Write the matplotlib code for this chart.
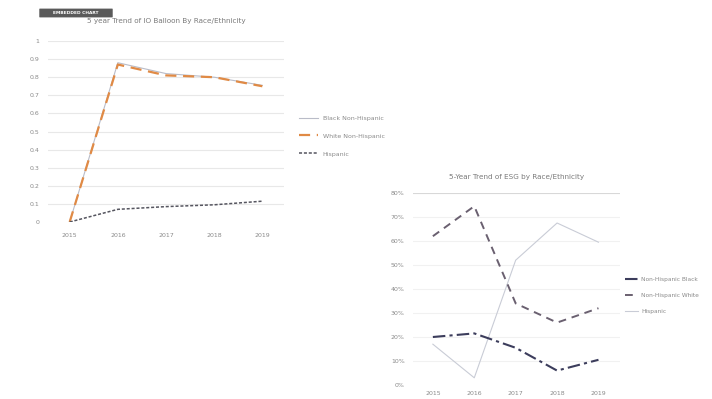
import matplotlib.pyplot as plt
from matplotlib.patches import FancyBboxPatch

years = ["2015", "2016", "2017", "2018", "2019"]

# IO Balloon shares
io_black = [0.0, 0.88, 0.82, 0.80, 0.755]
io_white = [0.0, 0.87, 0.81, 0.80, 0.75]
io_hisp = [0.0, 0.07, 0.085, 0.095, 0.115]
io_ticks = [0, 0.1, 0.2, 0.3, 0.4, 0.5, 0.6, 0.7, 0.8, 0.9, 1]
io_tick_labels = ["0", "0.1", "0.2", "0.3", "0.4", "0.5", "0.6", "0.7", "0.8", "0.9", "1"]

# ESG shares
esg_black = [0.20, 0.215, 0.155, 0.06, 0.105]
esg_white = [0.62, 0.745, 0.34, 0.26, 0.32]
esg_hisp = [0.17, 0.03, 0.52, 0.675, 0.595]
esg_ticks = [0, 0.1, 0.2, 0.3, 0.4, 0.5, 0.6, 0.7, 0.8]
esg_tick_labels = ["0%", "10%", "20%", "30%", "40%", "50%", "60%", "70%", "80%"]

W, H = 712, 399
fig = plt.figure(figsize=(W / 100, H / 100), dpi=100)
fig.patch.set_facecolor("white")

txt = "#8a8a8a"
x = list(range(len(years)))


def style(ax):
    for s in ax.spines.values():
        s.set_visible(False)
    ax.tick_params(length=0, labelsize=4.5, colors=txt, pad=2)
    ax.set_facecolor("none")


# Left chart: IO Balloon
ax1 = fig.add_axes([48 / W, 1 - 222 / H, 236 / W, 181 / H])
style(ax1)
for t in io_ticks[1:]:
    ax1.axhline(t, color="#e8e8e8", lw=0.8, zorder=0)
ax1.plot(x, io_black, color="#b9bcc8", lw=0.8, label="Black Non-Hispanic", zorder=2)
ax1.plot(x, io_white, color="#e08a45", lw=1.6, dashes=(5, 3), label="White Non-Hispanic", zorder=3)
ax1.plot(x, io_hisp, color="#55555f", lw=1.1, dashes=(2, 1.2), label="Hispanic", zorder=4)
ax1.set_xlim(-0.45, 4.45)
ax1.set_ylim(0, 1)
ax1.set_xticks(x, years)
ax1.set_yticks(io_ticks, io_tick_labels)
ax1.tick_params(axis="y", pad=6)
ax1.tick_params(axis="x", pad=8)
ax1.set_title("5 year Trend of IO Balloon By Race/Ethnicity", fontsize=5.2, color="#7a7a7a", pad=13)
ax1.legend(loc="upper left", bbox_to_anchor=(1.04, 0.62), frameon=False, fontsize=4.5,
           labelcolor=txt, handlelength=3, labelspacing=2.0)

# Right chart: ESG
ax2 = fig.add_axes([413 / W, 1 - 385 / H, 207 / W, 192 / H])
style(ax2)
for t in esg_ticks[1:-1]:
    ax2.axhline(t, color="#f1f1f1", lw=0.8, zorder=0)
ax2.axhline(0.8, color="#d8d8d8", lw=0.8, zorder=0)
ax2.plot(x, esg_black, color="#3c3d5c", lw=1.5, dashes=(6, 2, 1.5, 2), label="Non-Hispanic Black", zorder=4)
ax2.plot(x, esg_white, color="#6a6070", lw=1.4, dashes=(4, 3), label="Non-Hispanic White", zorder=3)
ax2.plot(x, esg_hisp, color="#c9ccd6", lw=0.8, label="Hispanic", zorder=2)
ax2.set_xlim(-0.48, 4.52)
ax2.set_ylim(0, 0.8)
ax2.set_xticks(x, years)
ax2.set_yticks(esg_ticks, esg_tick_labels)
ax2.tick_params(axis="y", pad=6)
ax2.tick_params(axis="x", pad=4)
ax2.set_title("5-Year Trend of ESG by Race/Ethnicity", fontsize=5.2, color="#7a7a7a", pad=10)
ax2.legend(loc="upper left", bbox_to_anchor=(1.0, 0.59), frameon=False, fontsize=4.2,
           labelcolor=txt, handlelength=2.2, handletextpad=0.5, labelspacing=1.9)

# Small dark badge in the upper-left corner
badge = FancyBboxPatch((40 / W, 1 - 17 / H), 72 / W, 8 / H,
                       boxstyle="round,pad=0.001", transform=fig.transFigure,
                       facecolor="#5a5a5a", edgecolor="none")
fig.patches.append(badge)
fig.text(76 / W, 1 - 13 / H, "EMBEDDED CHART", fontsize=3.2, color="white",
         ha="center", va="center", fontweight="bold")

fig.savefig("out.png", dpi=100, facecolor="white")
